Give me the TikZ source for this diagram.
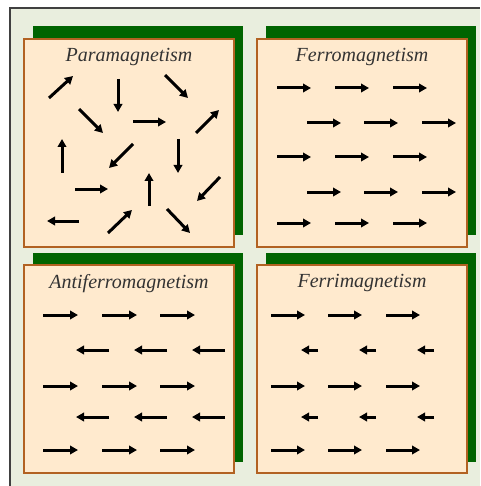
\documentclass[tikz,border=0pt]{standalone}
\usepackage{fontspec}
\setmainfont{Liberation Serif}
\usetikzlibrary{arrows.meta, positioning}
\definecolor{bgpale}{RGB}{233,238,222}
\definecolor{boxpeach}{RGB}{255,234,206}
\definecolor{boxedge}{RGB}{178,98,34}
\definecolor{shadegreen}{RGB}{0,100,0}
\tikzstyle{panel} = [rectangle, draw=boxedge, line width=2pt, fill=boxpeach,
    minimum width=210pt, minimum height=208pt, inner sep=0pt, anchor=north west]
\tikzstyle{shade} = [fill=shadegreen]
\tikzstyle{title} = [font=\itshape\fontsize{20}{24}\selectfont, text=black!80]
\tikzstyle{spin} = [line width=3pt, -{Triangle[length=8pt,width=8.5pt]}]

\begin{document}
\begin{tikzpicture}[x=1pt, y=-1pt]
  \useasboundingbox (0,0) rectangle (480,486);
  \fill[white] (0,0) rectangle (480,486);
  \fill[bgpale] (10,8) rectangle (480,486);
  \draw[black!75, line width=1.5pt] (10,486) -- (10,8) -- (480,8);

  % green shadows behind the panels
  \foreach \sx/\sy in {33/26, 266/26, 33/253, 266/253}
    \fill[shade] (\sx,\sy) rectangle ++(210,209);

  \node (para)  [panel] at (23,38)   {};
  \node (ferro) [panel] at (256,38)  {};
  \node (anti)  [panel] at (23,264)  {};
  \node (ferri) [panel] at (256,264) {};

  \node (paratitle)  [title, below=7pt of para.north]  {Paramagnetism};
  \node (ferrotitle) [title, below=7pt of ferro.north] {Ferromagnetism};
  \node (antititle)  [title, below=7pt of anti.north]  {Antiferromagnetism};
  \node (ferrititle) [title, below=7pt of ferri.north] {Ferrimagnetism};

  % random spins
  \begin{scope}[shift={(para.north west)}]
    \foreach \ax/\ay/\bx/\by in {26/60/50/38, 95/41/95/74, 142/37/165/60,
        56/71/80/95, 110/84/143/84, 173/95/196/72, 39/135/39/101,
        110/106/86/130, 155/101/155/135, 52/151/85/151, 126/168/126/135,
        197/139/174/163, 56/183/24/183, 85/195/109/172, 144/171/167/195}
      \draw[spin] (\ax,\ay) -- (\bx,\by);
  \end{scope}

  % parallel spins
  \begin{scope}[shift={(ferro.north west)}]
    \foreach \ry in {50,119,185}
      \foreach \rx in {21,79,137}
        \draw[spin] (\rx,\ry) -- ++(34,0);
    \foreach \ry in {85,154}
      \foreach \rx in {51,108,166}
        \draw[spin] (\rx,\ry) -- ++(34,0);
  \end{scope}

  % antiparallel, equal
  \begin{scope}[shift={(anti.north west)}]
    \foreach \ry in {51,122,186}
      \foreach \rx in {20,79,137}
        \draw[spin] (\rx,\ry) -- ++(35,0);
    \foreach \ry in {86,153}
      \foreach \rx in {86,144,202}
        \draw[spin] (\rx,\ry) -- ++(-33,0);
  \end{scope}

  % antiparallel, unequal
  \begin{scope}[shift={(ferri.north west)}]
    \foreach \ry in {51,122,186}
      \foreach \rx in {15,72,130}
        \draw[spin] (\rx,\ry) -- ++(34,0);
    \foreach \ry in {86,153}
      \foreach \rx in {62,120,178}
        \draw[spin] (\rx,\ry) -- ++(-17,0);
  \end{scope}
\end{tikzpicture}
\end{document}
